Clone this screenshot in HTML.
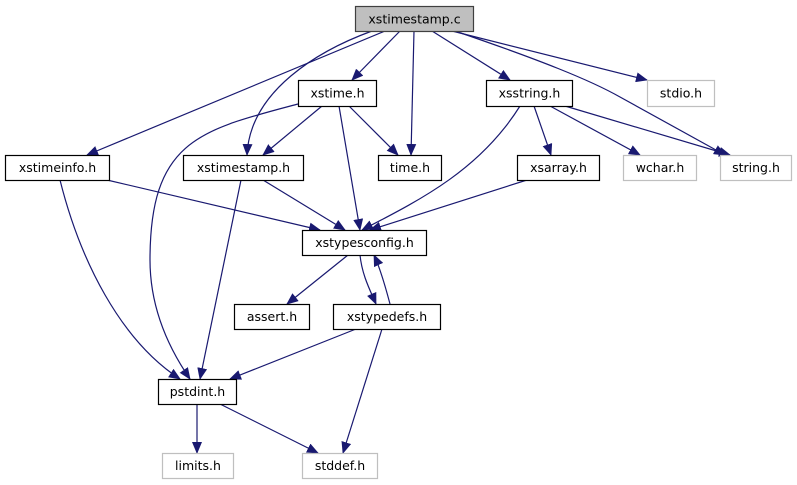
<!DOCTYPE html>
<html><head><meta charset="utf-8"><style>
html,body{margin:0;padding:0;background:#fff;}
svg{display:block;}
text{font-family:"DejaVu Sans","Liberation Sans",sans-serif;font-size:12.5px;fill:#000;}
</style></head><body>
<svg width="797" height="485" viewBox="0 0 797 485" xmlns="http://www.w3.org/2000/svg">
<defs>
<marker id="a" markerWidth="12" markerHeight="10" refX="11" refY="5" orient="auto" markerUnits="userSpaceOnUse">
<polygon points="0,0 12,5 0,10" fill="#191970"/>
</marker>
</defs>
<g fill="none" stroke="#191970" stroke-width="1.2" marker-end="url(#a)">
<path d="M385,31 L87,155"/>
<path d="M372,31 C320,50 250,90 247,155"/>
<path d="M400,31 L352,80"/>
<path d="M414,31 L411,155"/>
<path d="M432,31 L510,80"/>
<path d="M452,31 L647,80"/>
<path d="M455,31 C540,60 590,80 620,97 L725,155"/>
<path d="M298,104 C200,130 150,140 150,260 C150,310 170,350 190,379"/>
<path d="M322,106 L263,155"/>
<path d="M339,106 L360,230"/>
<path d="M349,106 L398,155"/>
<path d="M520,106 C480,170 420,200 362,230"/>
<path d="M534,106 L551,155"/>
<path d="M550,106 L640,155"/>
<path d="M565,106 L730,155"/>
<path d="M107,180 L320,230"/>
<path d="M60,180 C80,260 120,340 180,379"/>
<path d="M263,180 L345,230"/>
<path d="M241,180 L200,379"/>
<path d="M527,180 L370,230"/>
<path d="M348,255 L287,304"/>
<path d="M360,255 C362,275 370,290 376,304"/>
<path d="M390,304 C385,285 380,268 374,255"/>
<path d="M356,329 L230,379"/>
<path d="M382,329 L343,453"/>
<path d="M197,404 L197,453"/>
<path d="M220,404 L318,453"/>
</g>
<g stroke-width="1.2">
<rect x="355.5" y="6.5" width="118" height="25" fill="#bfbfbf" stroke="#404040"/>
<rect x="298.5" y="80.5" width="78" height="26" fill="#fff" stroke="#000"/>
<rect x="486.5" y="80.5" width="86" height="26" fill="#fff" stroke="#000"/>
<rect x="647.5" y="80.5" width="67" height="26" fill="#fff" stroke="#bfbfbf"/>
<rect x="5.5" y="155.5" width="104" height="25" fill="#fff" stroke="#000"/>
<rect x="183.5" y="155.5" width="120" height="25" fill="#fff" stroke="#000"/>
<rect x="378.5" y="155.5" width="63" height="25" fill="#fff" stroke="#000"/>
<rect x="517.5" y="155.5" width="82" height="25" fill="#fff" stroke="#000"/>
<rect x="623.5" y="155.5" width="73" height="25" fill="#fff" stroke="#bfbfbf"/>
<rect x="720.5" y="155.5" width="71" height="25" fill="#fff" stroke="#bfbfbf"/>
<rect x="302.5" y="230.5" width="124" height="25" fill="#fff" stroke="#000"/>
<rect x="234.5" y="304.5" width="75" height="25" fill="#fff" stroke="#000"/>
<rect x="333.5" y="304.5" width="107" height="25" fill="#fff" stroke="#000"/>
<rect x="158.5" y="379.5" width="78" height="25" fill="#fff" stroke="#000"/>
<rect x="162.5" y="453.5" width="71" height="25" fill="#fff" stroke="#bfbfbf"/>
<rect x="302.5" y="453.5" width="75" height="25" fill="#fff" stroke="#bfbfbf"/>
</g>
<g text-anchor="middle">
<text x="414.5" y="23.5">xstimestamp.c</text>
<text x="337.5" y="97.5">xstime.h</text>
<text x="529.5" y="97.5">xsstring.h</text>
<text x="681" y="97.5">stdio.h</text>
<text x="57.5" y="172">xstimeinfo.h</text>
<text x="243.5" y="172">xstimestamp.h</text>
<text x="410" y="172">time.h</text>
<text x="558.5" y="172">xsarray.h</text>
<text x="660" y="172">wchar.h</text>
<text x="756" y="172">string.h</text>
<text x="364.5" y="247">xstypesconfig.h</text>
<text x="272" y="321">assert.h</text>
<text x="387" y="321">xstypedefs.h</text>
<text x="197.5" y="396">pstdint.h</text>
<text x="198" y="470">limits.h</text>
<text x="340" y="470">stddef.h</text>
</g>
</svg>
</body></html>
